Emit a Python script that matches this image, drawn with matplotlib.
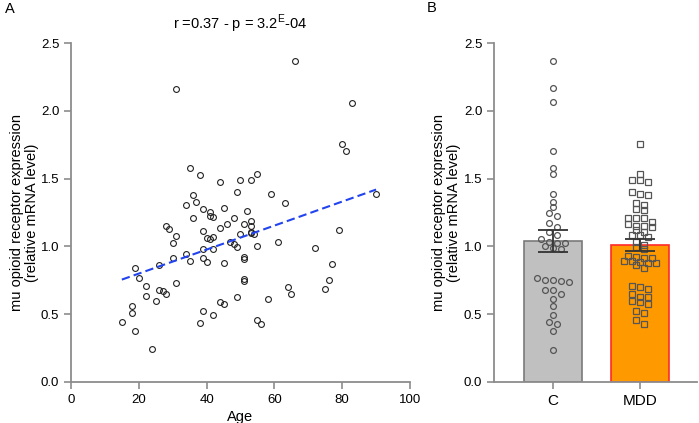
import matplotlib
matplotlib.use('Agg')
import matplotlib.pyplot as plt
import numpy as np

plt.rcParams['font.family'] = ['Liberation Sans', 'DejaVu Sans']
plt.rcParams['mathtext.fontset'] = 'custom'
plt.rcParams['mathtext.rm'] = 'Liberation Sans'

# --- Panel A: age vs expression ---
age = [31, 66, 83, 80, 81, 59, 63, 90, 79, 61, 72, 77, 76, 75, 64, 65, 58,
       35, 38, 36, 34, 37, 39, 41, 41, 42, 36, 28, 29, 39, 31, 40, 41, 42,
       30, 39, 42, 30, 34, 39, 19, 26, 35, 40, 20, 31, 22, 26, 27, 28, 22,
       25, 18, 18, 15, 19, 24, 39, 42, 38, 45, 51, 51, 51, 51, 49, 44, 45,
       55, 56, 44, 50, 53, 55, 49, 45, 52, 48, 53, 46, 51, 53, 44, 53, 53,
       54, 50, 47, 48, 49, 55]
expr = [2.165, 2.366, 2.06, 1.753, 1.704, 1.384, 1.317, 1.386, 1.123, 1.034,
        0.99, 0.867, 0.751, 0.687, 0.70, 0.645, 0.61, 1.576, 1.529, 1.377,
        1.305, 1.325, 1.273, 1.251, 1.226, 1.214, 1.211, 1.148, 1.128, 1.115,
        1.078, 1.061, 1.054, 1.066, 1.022, 0.98, 0.98, 0.916, 0.941, 0.911,
        0.837, 0.86, 0.889, 0.884, 0.764, 0.727, 0.709, 0.677, 0.672, 0.65,
        0.631, 0.594, 0.559, 0.505, 0.439, 0.377, 0.239, 0.524, 0.493, 0.431,
        0.874, 0.905, 0.92, 0.745, 0.755, 0.623, 0.586, 0.572, 0.456, 0.426,
        1.473, 1.487, 1.492, 1.536, 1.399, 1.285, 1.263, 1.207, 1.185, 1.167,
        1.165, 1.148, 1.133, 1.108, 1.098, 1.093, 1.089, 1.032, 1.019, 0.995,
        1.005]
title_a = r'r =0.37 - p = 3.2$^{\mathrm{E}}$-04'

# --- Panel B: groups ---
groups = ['C', 'MDD']
vals_c = [2.368, 2.167, 2.063, 1.704, 1.576, 1.532, 1.384, 1.325, 1.288, 1.248,
          1.222, 1.17, 1.145, 1.103, 1.086, 1.052, 1.03, 1.024, 1.024, 1.004,
          0.987, 0.978, 0.768, 0.751, 0.751, 0.746, 0.739, 0.677, 0.675, 0.648,
          0.611, 0.559, 0.49, 0.439, 0.426, 0.374, 0.234]
vals_mdd = [1.753, 1.536, 1.492, 1.487, 1.473, 1.401, 1.386, 1.377, 1.32, 1.307,
            1.275, 1.266, 1.211, 1.211, 1.207, 1.182, 1.167, 1.15, 1.148, 1.14,
            1.12, 1.103, 1.086, 1.086, 1.066, 1.03, 1.01, 0.993, 0.98, 0.928,
            0.919, 0.914, 0.911, 0.891, 0.891, 0.886, 0.877, 0.874, 0.86, 0.837,
            0.707, 0.699, 0.687, 0.648, 0.628, 0.623, 0.594, 0.586, 0.572, 0.522,
            0.505, 0.456, 0.428]

ylabel = 'mu opioid receptor expression\n(relative mRNA level)'
spine_col = '#8c8c8c'


def style_axes(ax):
    for s in ['top', 'right']:
        ax.spines[s].set_visible(False)
    for s in ['left', 'bottom']:
        ax.spines[s].set_color(spine_col)
        ax.spines[s].set_linewidth(1.3)
    ax.tick_params(colors=spine_col, labelcolor='black', width=1.2, length=5,
                   labelsize=9.5)


def row_offsets(values, bin_h=0.03, step=0.092):
    """Reparte los puntos en filas horizontales tipo Prism"""
    order = np.argsort(values)[::-1]
    offs = np.zeros(len(values))
    rows = []
    for i in order:
        if rows and rows[-1][0] - values[i] < bin_h:
            rows[-1][1].append(i)
        else:
            rows.append((values[i], [i]))
    for _, idx in rows:
        n = len(idx)
        for k, i in enumerate(idx):
            offs[i] = (k - (n - 1) / 2) * step
    return offs


fig = plt.figure(figsize=(6.99, 4.23), dpi=100)

# Panel A
ax1 = fig.add_axes([71 / 699, 1 - 381.7 / 423, 339 / 699, 338.5 / 423])
ax1.plot(age, expr, 'o', mfc='none', mec='#222222', mew=0.8, ms=4.2,
         linestyle='none')
slope, icpt = np.polyfit(age, expr, 1)
xs = np.array([min(age), max(age)])
ax1.plot(xs, slope * xs + icpt, '--', color='#2244ee', lw=1.5, dashes=(4, 2))
ax1.set_xlim(0, 100)
ax1.set_ylim(0, 2.5)
ax1.set_xticks([0, 20, 40, 60, 80, 100])
ax1.set_yticks([0, 0.5, 1.0, 1.5, 2.0, 2.5])
ax1.set_yticklabels([f'{v:.1f}' for v in ax1.get_yticks()])
ax1.set_xlabel('Age', fontsize=10.5, labelpad=3)
ax1.set_ylabel(ylabel, fontsize=10.5, labelpad=1, linespacing=1.1)
ax1.set_title(title_a, fontsize=10.5, pad=10)
style_axes(ax1)

# Panel B
ax2 = fig.add_axes([494 / 699, 1 - 381.7 / 423, 203 / 699, 338.5 / 423])
x = np.arange(len(groups))
data = [np.array(vals_c), np.array(vals_mdd)]
means = [d.mean() for d in data]
sems = [d.std(ddof=1) / np.sqrt(len(d)) for d in data]
ax2.bar(x, means, width=0.66, color=['#c0c0c0', '#ff9900'],
        edgecolor=['#7a7a7a', '#ff2a2a'], linewidth=1.2, zorder=1)
markers = ['o', 's']
for i, d in enumerate(data):
    ax2.plot(x[i] + row_offsets(d), d, markers[i], mfc='none', mec='#555555',
             mew=0.9, ms=4.2 if i == 0 else 4.4, linestyle='none', zorder=3)
ax2.errorbar(x, means, yerr=sems, fmt='none', ecolor='#333333', elinewidth=1.3,
             capsize=11, capthick=1.3, zorder=4)
ax2.set_xlim(-0.678, 1.655)
ax2.set_ylim(0, 2.5)
ax2.set_xticks(x)
ax2.set_xticklabels(groups, fontsize=11)
ax2.set_yticks([0, 0.5, 1.0, 1.5, 2.0, 2.5])
ax2.set_yticklabels([f'{v:.1f}' for v in ax2.get_yticks()])
ax2.set_ylabel(ylabel, fontsize=10.5, labelpad=2, linespacing=1.1)
style_axes(ax2)
ax2.tick_params(axis='x', labelsize=11)

fig.text(10 / 699, 1 - 9 / 423, 'A', fontsize=10.5, ha='center', va='center')
fig.text(432 / 699, 1 - 8 / 423, 'B', fontsize=10.5, ha='center', va='center')

plt.savefig('out.png', dpi=100)
print("✓ Gráfica guardada: out.png")
